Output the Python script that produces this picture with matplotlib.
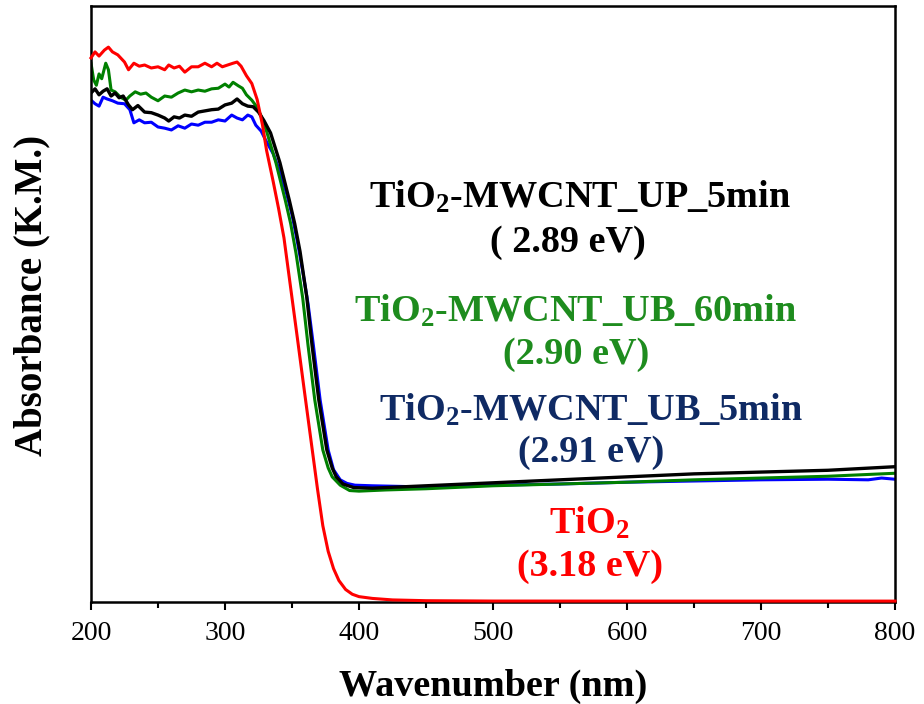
import matplotlib
matplotlib.use("Agg")
import matplotlib.pyplot as plt
from matplotlib.ticker import MultipleLocator

# ---- data (wavelength nm, absorbance K.M., arbitrary units) ----
red_x = [200, 203, 206, 210, 213, 216, 220, 225, 228, 232, 236, 240, 245, 250, 255, 258, 262, 266, 270, 275,
         280, 285, 290, 294, 298, 302, 306, 309, 312, 316, 320, 324, 328, 331, 336, 340, 344, 349, 354, 359,
         364, 369, 373, 377, 381, 385, 390, 395, 400, 410, 425, 450, 500, 600, 700, 800]
red_y = [0.913, 0.923, 0.916, 0.926, 0.931, 0.923, 0.918, 0.906, 0.893, 0.904, 0.899, 0.901, 0.896, 0.898, 0.893,
         0.901, 0.896, 0.899, 0.889, 0.898, 0.898, 0.904, 0.898, 0.904, 0.898, 0.901, 0.904, 0.906, 0.899, 0.883,
         0.870, 0.843, 0.800, 0.758, 0.705, 0.660, 0.611, 0.527, 0.443, 0.358, 0.274, 0.190, 0.128, 0.085, 0.056,
         0.036, 0.021, 0.013, 0.009, 0.006, 0.0035, 0.0022, 0.0016, 0.0015, 0.0015, 0.0015]

green_x = [200, 202, 204, 206, 208, 211, 213, 215, 218, 222, 226, 229, 233, 237, 241, 245, 250, 255, 260, 265,
           270, 275, 280, 285, 290, 295, 300, 303, 306, 310, 313, 316, 320, 324, 327, 331, 338, 345, 349, 353,
           358, 362, 367, 373, 377, 380, 386, 393, 400, 420, 450, 500, 550, 600, 650, 700, 750, 800]
green_y = [0.904, 0.876, 0.867, 0.886, 0.878, 0.904, 0.893, 0.859, 0.856, 0.847, 0.842, 0.849, 0.856, 0.852,
           0.854, 0.847, 0.841, 0.849, 0.847, 0.854, 0.859, 0.856, 0.859, 0.857, 0.861, 0.862, 0.869, 0.864, 0.872,
           0.866, 0.862, 0.851, 0.842, 0.830, 0.815, 0.790, 0.737, 0.674, 0.635, 0.585, 0.510, 0.430, 0.339,
           0.255, 0.225, 0.210, 0.196, 0.187, 0.186, 0.188, 0.190, 0.195, 0.198, 0.201, 0.205, 0.208, 0.211, 0.216]

black_x = [200, 203, 206, 209, 212, 215, 218, 221, 224, 228, 231, 235, 240, 245, 250, 255, 258, 262, 266, 270,
           275, 280, 285, 290, 295, 300, 305, 309, 313, 317, 321, 325, 329, 334, 341, 348, 352, 356, 361, 365,
           370, 376, 380, 383, 388, 396, 410, 450, 500, 550, 600, 650, 700, 750, 800]
black_y = [0.854, 0.861, 0.851, 0.857, 0.861, 0.849, 0.854, 0.846, 0.849, 0.834, 0.826, 0.833, 0.822, 0.821,
           0.817, 0.812, 0.807, 0.814, 0.812, 0.817, 0.815, 0.822, 0.824, 0.826, 0.827, 0.834, 0.837, 0.844, 0.836,
           0.832, 0.831, 0.822, 0.808, 0.787, 0.737, 0.674, 0.635, 0.588, 0.512, 0.430, 0.339, 0.255, 0.225,
           0.210, 0.198, 0.192, 0.191, 0.195, 0.200, 0.205, 0.210, 0.215, 0.218, 0.221, 0.227]

blue_x = [200, 203, 206, 209, 212, 216, 220, 225, 229, 232, 236, 240, 245, 250, 255, 260, 265, 270, 275, 280,
          285, 290, 295, 300, 305, 309, 313, 317, 320, 323, 327, 331, 336, 341, 346, 350, 354, 358, 362, 366,
          371, 377, 381, 386, 391, 397, 410, 450, 500, 550, 600, 650, 700, 750, 780, 790, 800]
blue_y = [0.842, 0.836, 0.832, 0.847, 0.844, 0.841, 0.837, 0.836, 0.826, 0.804, 0.809, 0.804, 0.805, 0.797, 0.795,
          0.792, 0.799, 0.795, 0.802, 0.800, 0.805, 0.805, 0.809, 0.807, 0.817, 0.812, 0.809, 0.817, 0.814, 0.800,
          0.790, 0.772, 0.752, 0.722, 0.685, 0.650, 0.605, 0.555, 0.500, 0.430, 0.339, 0.255, 0.222, 0.205, 0.199,
          0.196, 0.195, 0.193, 0.196, 0.198, 0.201, 0.203, 0.205, 0.206, 0.205, 0.208, 0.206]

x_ticks = [200, 300, 400, 500, 600, 700, 800]

labels = [
    ("TiO$_2$-MWCNT_UP_5min", "( 2.89 eV)", "black"),
    ("TiO$_2$-MWCNT_UB_60min", "(2.90 eV)", "#1E8C1E"),
    ("TiO$_2$-MWCNT_UB_5min", "(2.91 eV)", "#0F2A64"),
    ("TiO$_2$", "(3.18 eV)", "#FF0000"),
]

plt.rcParams['font.family'] = ['Liberation Serif', 'DejaVu Serif']
plt.rcParams['mathtext.fontset'] = 'custom'
plt.rcParams['mathtext.rm'] = 'Liberation Serif:bold'
plt.rcParams['mathtext.it'] = 'Liberation Serif:bold'
plt.rcParams['mathtext.bf'] = 'Liberation Serif:bold'

fig = plt.figure(figsize=(9.24, 7.04), dpi=100)
ax = fig.add_axes([91 / 924, 1 - 602 / 704, (895 - 91) / 924, (602 - 6) / 704])

ax.plot(blue_x, blue_y, color="#0000FF", lw=2.2)
ax.plot(green_x, green_y, color="#008000", lw=2.2)
ax.plot(black_x, black_y, color="black", lw=2.4)
ax.plot(red_x, red_y, color="#FF0000", lw=2.2, clip_on=False, zorder=5)

ax.set_xlim(200, 800)
ax.set_ylim(0, 1)
ax.set_xticks(x_ticks)
ax.xaxis.set_minor_locator(MultipleLocator(50))
ax.set_yticks([])
ax.tick_params(axis='x', which='major', direction='out', length=6, width=1.5, labelsize=20, pad=8)
ax.tick_params(axis='x', which='minor', direction='out', length=4, width=1.5)
for s in ax.spines.values():
    s.set_linewidth(1.8)

ax.set_xlabel("Wavenumber (nm)", fontsize=27.5, fontweight='bold', labelpad=16)
ax.set_ylabel("Absorbance (K.M.)", fontsize=28, fontweight='bold')
ax.yaxis.set_label_coords(-0.05, 0.515)

pos = [(580, 568, 197, 243), (576, 576, 311, 355), (591, 591, 410, 453), (589, 590, 523, 567)]
for (t1, t2, c), (px1, px2, py1, py2) in zip(labels, pos):
    fig.text(px1 / 924, 1 - py1 / 704, t1, color=c, fontsize=27.5, fontweight='bold', ha='center', va='center')
    fig.text(px2 / 924, 1 - py2 / 704, t2, color=c, fontsize=27.5, fontweight='bold', ha='center', va='center')

fig.savefig("out.png", dpi=100)
